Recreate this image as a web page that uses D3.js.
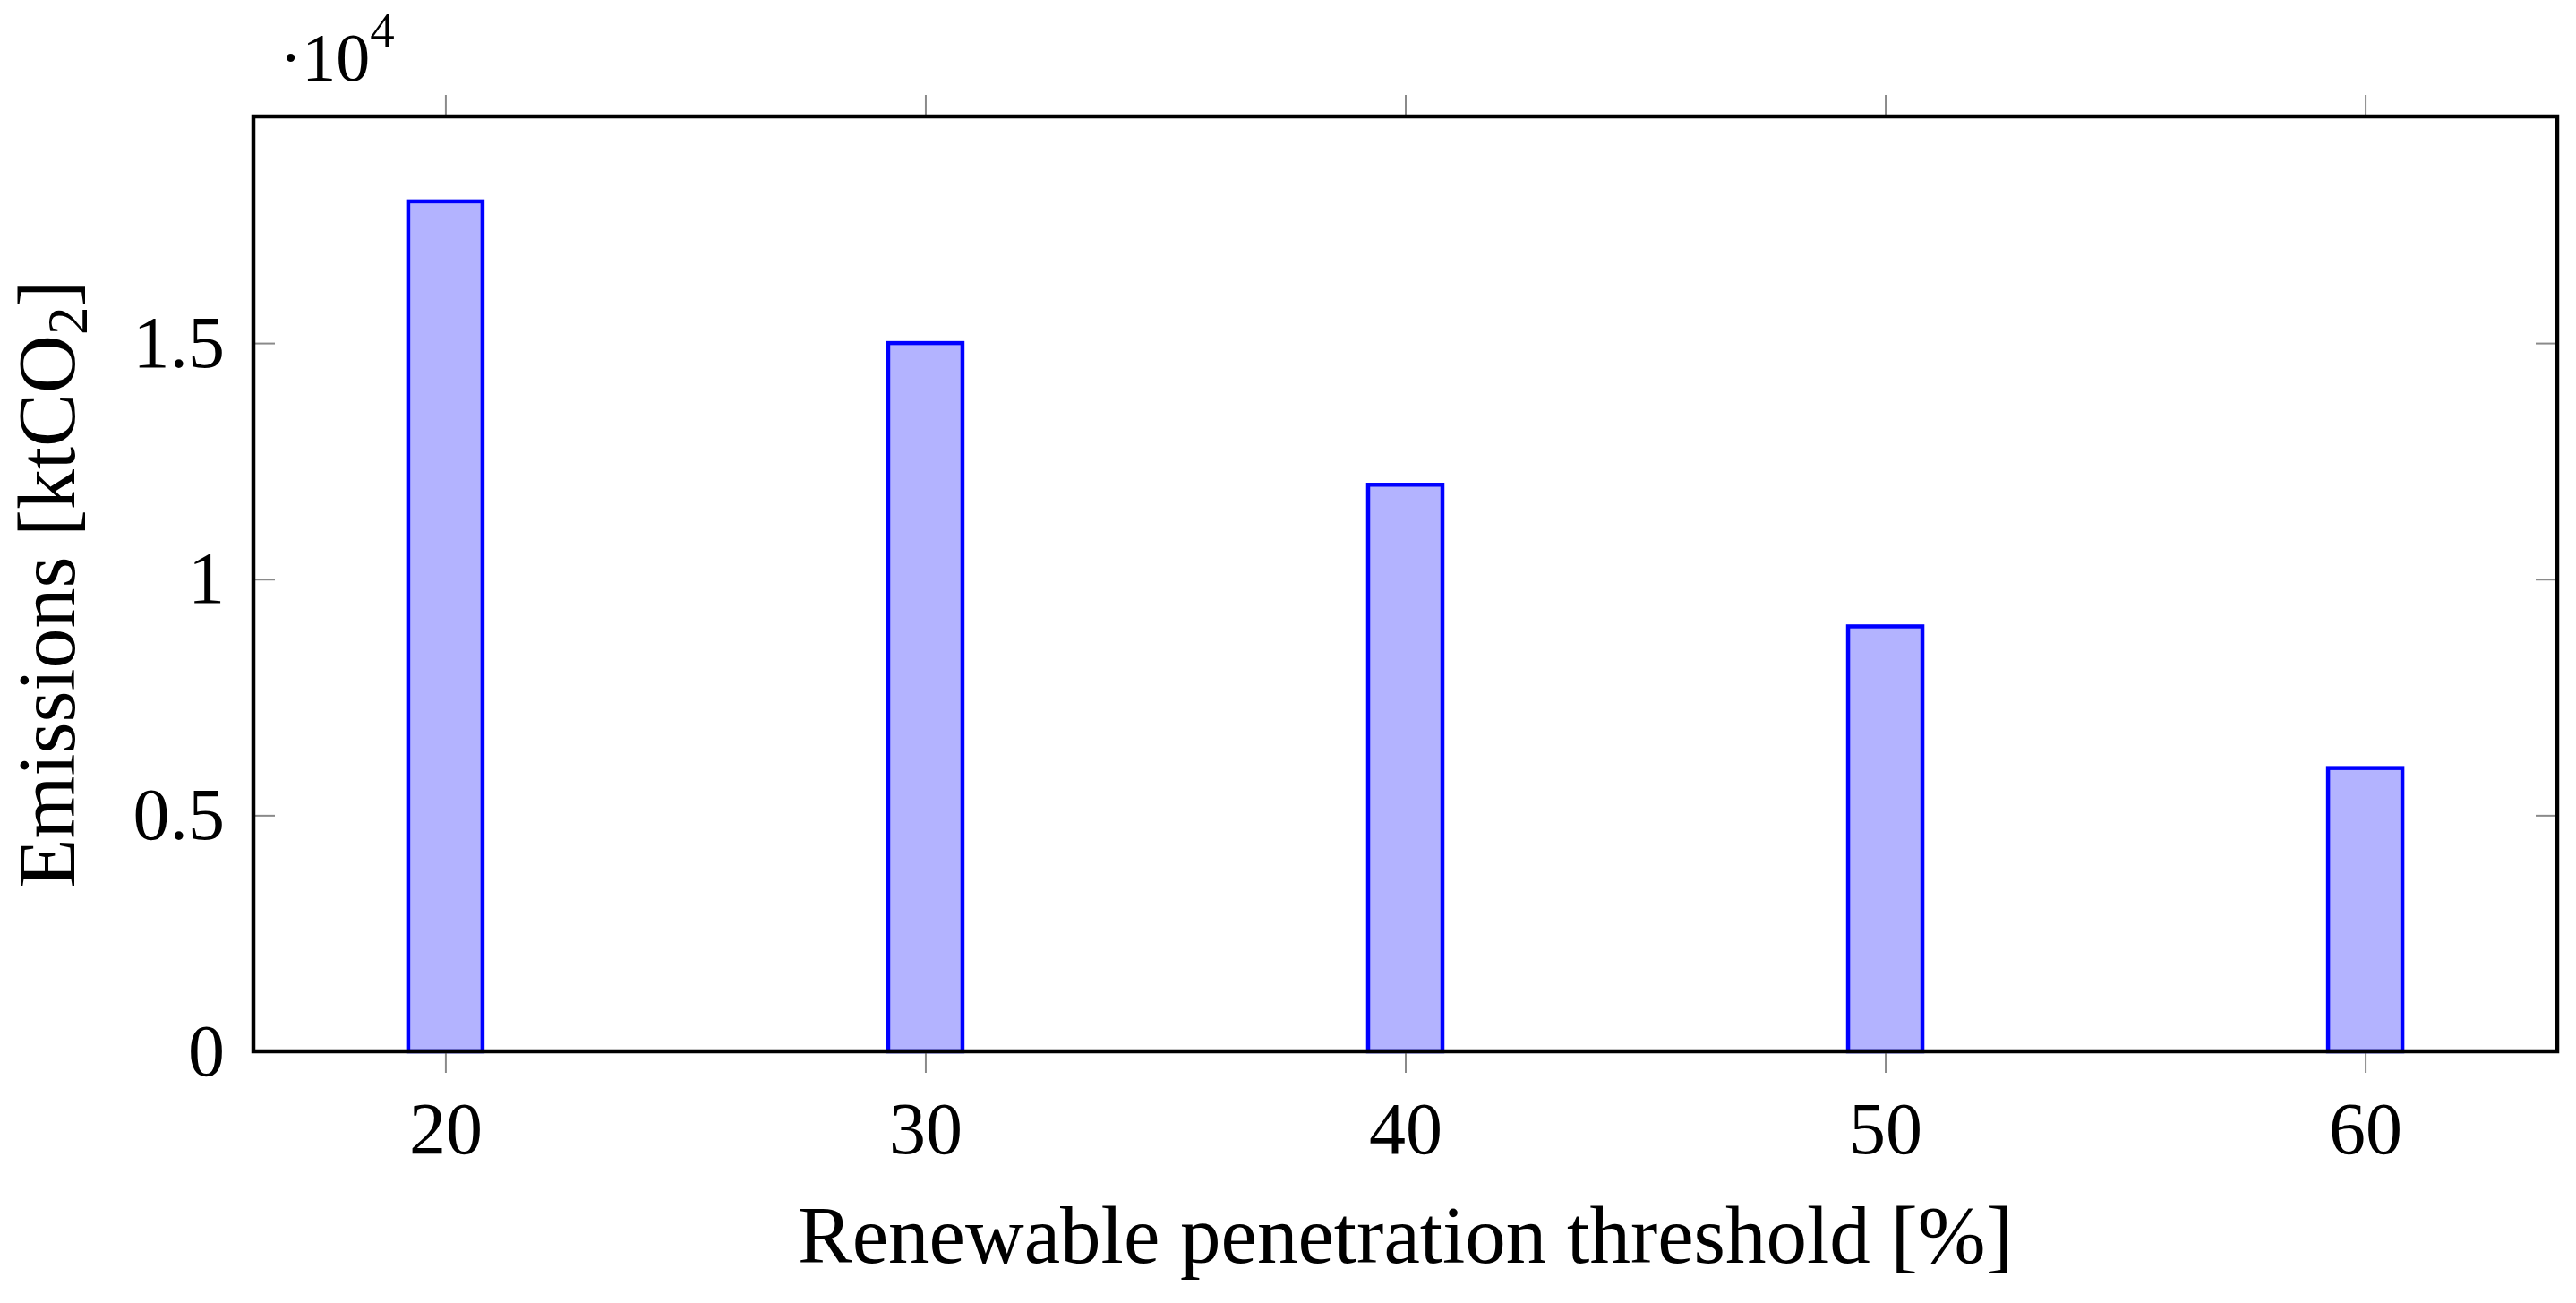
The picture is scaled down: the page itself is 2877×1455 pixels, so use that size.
<!DOCTYPE html>
<html>
<head>
<meta charset="utf-8">
<script src="https://cdn.jsdelivr.net/npm/d3@7"></script>
<style>
  html, body { margin: 0; padding: 0; background: #ffffff; }
  svg { display: block; }
  text { font-family: "Liberation Serif", "DejaVu Serif", serif; fill: #000; }
</style>
</head>
<body>
<svg id="chart" width="2877" height="1455"></svg>
<script>
// ---- data ----
const categories = [20, 30, 40, 50, 60];
const emissions = [18000, 15000, 12000, 9000, 6000];
const xTicks = [20, 30, 40, 50, 60];
const yTicks = [0, 5000, 10000, 15000];
const yTickLabels = ["0", "0.5", "1", "1.5"];
const xTitle = "Renewable penetration threshold [%]";
const yTitleMain = "Emissions [ktCO";
const yTitleSub = "2";
const yTitleEnd = "]";
const scaleMain = "\u00B710";
const scaleExp = "4";

// ---- layout ----
const W = 2877, H = 1455;
const pL = 283, pR = 2856, pT = 130, pB = 1174;
const barW = 83;
const tickLen = 24;
const tickColor = "#8a8a8a";

const svg = d3.select("#chart");
svg.append("rect").attr("width", W).attr("height", H).attr("fill", "#fff");

const x = d3.scaleLinear().domain([16, 64]).range([pL, pR]);
const y = d3.scaleLinear().domain([0, 19800]).range([pB, pT]);

// bars
svg.append("g").selectAll("rect")
  .data(categories.map((c, i) => ({c, v: emissions[i]})))
  .join("rect")
  .attr("x", d => x(d.c) - barW / 2)
  .attr("width", barW)
  .attr("y", d => y(d.v))
  .attr("height", d => y(0) - y(d.v))
  .attr("fill", "#b3b3ff")
  .attr("stroke", "#0000ff")
  .attr("stroke-width", 4.5);

// axes
const styleAxis = g => {
  g.select(".domain").remove();
  g.selectAll(".tick line").attr("stroke", tickColor).attr("stroke-width", 2);
};

svg.append("g")
  .attr("transform", `translate(0,${pB})`)
  .call(d3.axisBottom(x).tickValues(xTicks).tickSize(tickLen).tickPadding(32).tickFormat(d3.format("d")))
  .call(styleAxis)
  .call(g => g.selectAll(".tick text").attr("font-size", 82).attr("font-family", "Liberation Serif"));

svg.append("g")
  .attr("transform", `translate(0,${pT})`)
  .call(d3.axisTop(x).tickValues(xTicks).tickSize(tickLen).tickFormat(""))
  .call(styleAxis);

svg.append("g")
  .attr("transform", `translate(${pL},0)`)
  .call(d3.axisLeft(y).tickValues(yTicks).tickSizeInner(-tickLen).tickSizeOuter(0).tickPadding(32)
        .tickFormat((d, i) => yTickLabels[i]))
  .call(styleAxis)
  .call(g => g.selectAll(".tick text").attr("font-size", 82).attr("font-family", "Liberation Serif"));

svg.append("g")
  .attr("transform", `translate(${pR},0)`)
  .call(d3.axisRight(y).tickValues(yTicks).tickSizeInner(-tickLen).tickSizeOuter(0).tickFormat(""))
  .call(styleAxis);

// frame
svg.append("rect")
  .attr("x", pL).attr("y", pT)
  .attr("width", pR - pL).attr("height", pB - pT)
  .attr("fill", "none").attr("stroke", "#000").attr("stroke-width", 4.5);

// x title
svg.append("text")
  .attr("x", (pL + pR) / 2).attr("y", 1410)
  .attr("text-anchor", "middle").attr("font-size", 91)
  .text(xTitle);

// y title
const yt = svg.append("text")
  .attr("transform", `translate(83,${(pT + pB) / 2}) rotate(-90)`)
  .attr("text-anchor", "middle").attr("font-size", 90);
yt.append("tspan").text(yTitleMain);
yt.append("tspan").attr("font-size", 63).attr("dy", 14).text(yTitleSub);
yt.append("tspan").attr("dy", -14).text(yTitleEnd);

// scale factor
const st = svg.append("text").attr("x", 312).attr("y", 90).attr("font-size", 76);
st.append("tspan").text(scaleMain);
st.append("tspan").attr("font-size", 55).attr("dy", -38).text(scaleExp);
</script>
</body>
</html>
